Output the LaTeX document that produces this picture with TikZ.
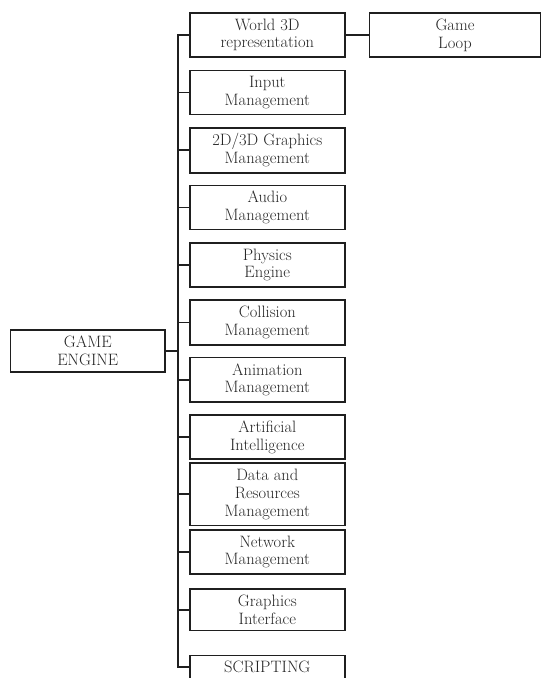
\documentclass[tikz,border=0pt]{standalone}
\usepackage{fontspec}
\begin{document}
\begin{tikzpicture}[x=1pt,y=-1pt,
  box/.style={draw=black!88, line width=1.8pt, inner sep=0pt, align=center,
    text=black!85, font=\fontsize{16.5}{17.7}\selectfont, minimum width=155pt},
  link/.style={draw=black!88, line width=1.8pt, line join=miter}]
\useasboundingbox (0,0) rectangle (543,678);
\clip (0,0) rectangle (543,678);
\node[box, minimum height=43.5pt] (world) at (267.3,35) {World 3D\\representation};
\node[box, minimum height=44pt] (input) at (267.3,92.5) {Input\\Management};
\node[box, minimum height=45pt] (gfx) at (267.3,150.2) {2D/3D Graphics\\Management};
\node[box, minimum height=44pt] (audio) at (267.3,207.5) {Audio\\Management};
\node[box, minimum height=44.5pt] (phys) at (267.3,265) {Physics\\Engine};
\node[box, minimum height=44.5pt] (coll) at (267.3,322.5) {Collision\\Management};
\node[box, minimum height=44.5pt] (anim) at (267.3,379.8) {Animation\\Management};
\node[box, minimum height=43.5pt] (ai) at (267.3,437) {Artificial\\Intelligence};
\node[box, minimum height=62.3pt] (data) at (267.3,494.3) {Data and\\Resources\\Management};
\node[box, minimum height=44.5pt] (net) at (267.3,552) {Network\\Management};
\node[box, minimum height=41.3pt] (gint) at (267.3,609.8) {Graphics\\Interface};
\node[box, minimum height=23pt] (scr) at (267.3,667) {SCRIPTING};
\node[box, minimum width=154.5pt, minimum height=41.3pt] (ge) at (87.8,351) {GAME\\ENGINE};
\node[box, minimum width=171pt, minimum height=43.5pt] (loop) at (455,35) {Game\\Loop};
\coordinate (top) at (178,35);
\coordinate (bot) at (178,667);
\draw[link] (world.west) -- (top) -- (bot) -- (scr.west);
\foreach \n in {input,gfx,audio,phys,coll,anim,ai,data,net,gint}
  \draw[link] (\n.west) -- (top |- \n.west);
\draw[link] (ge.east) -- (ge.east -| top);
\draw[link] (world.east) -- (loop.west);
\end{tikzpicture}
\end{document}
